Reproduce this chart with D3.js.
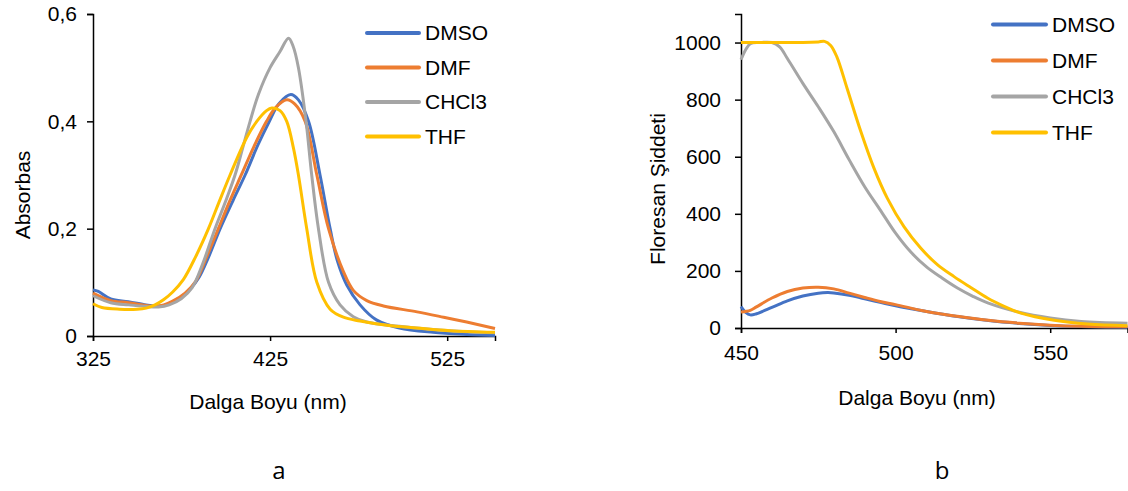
<!DOCTYPE html>
<html>
<head>
<meta charset="utf-8">
<script src="https://d3js.org/d3.v7.min.js"></script>
<style>
  body { margin: 0; background: #fff; }
  svg { display: block; font-family: "Liberation Sans", Arial, sans-serif; }
  .axis path, .axis line { stroke: #000; stroke-width: 1.5; }
  .axis text { font-size: 21px; fill: #000; font-family: "Liberation Sans", Arial, sans-serif; }
  .title { font-size: 21px; fill: #000; }
  .legend text { font-size: 21px; fill: #000; }
  .panel { font-size: 24px; font-family: "Open Sans", sans-serif; fill: #000; }
</style>
</head>
<body>
<svg id="chart" width="1128" height="491"></svg>
<script>
// series names and colours
const solvents = ["DMSO", "DMF", "CHCl3", "THF"];
const colors = ["#4472C4", "#ED7D31", "#A5A5A5", "#FFC000"];

// panel a: absorbance (wavelength nm, absorbance)
const absDMSO = [[325,0.086],[328,0.083],[335,0.069],[345,0.064],[355,0.058],[360,0.056],[365,0.057],[370,0.063],[375,0.073],[380,0.088],[385,0.11],[390,0.145],[396.8,0.2],[404,0.252],[410.9,0.3],[418,0.355],[424.6,0.4],[430,0.433],[436.7,0.45],[441,0.44],[446.7,0.4],[453.2,0.3],[458.9,0.2],[463,0.14],[468.3,0.095],[475.8,0.058],[485,0.03],[498,0.015],[517,0.007],[536,0.003],[552,0.001]];
const absDMF = [[325,0.08],[335,0.066],[345,0.062],[355,0.057],[360,0.055],[365,0.058],[370,0.065],[377,0.08],[383,0.102],[389,0.146],[395.8,0.2],[402,0.25],[409,0.302],[416,0.354],[423,0.4],[428,0.425],[434.4,0.44],[439,0.432],[444.8,0.4],[451.4,0.3],[458,0.2],[466.4,0.12],[472,0.085],[479.6,0.066],[489,0.056],[508,0.045],[523,0.035],[536,0.026],[552,0.014]];
const absCHCl3 = [[325,0.075],[335,0.062],[345,0.058],[355,0.055],[362,0.054],[368,0.058],[375,0.07],[381,0.09],[387,0.135],[393.9,0.2],[400,0.252],[405.2,0.3],[409.5,0.35],[413.7,0.4],[418.4,0.45],[425,0.5],[430.6,0.53],[435.4,0.555],[438,0.54],[441,0.5],[445.3,0.4],[448.5,0.3],[452.3,0.2],[458,0.1],[464.5,0.058],[472,0.036],[479.6,0.026],[498,0.018],[517,0.012],[536,0.008],[552,0.006]];
const absTHF = [[325,0.06],[330,0.053],[340,0.05],[350,0.05],[355,0.052],[360,0.058],[365,0.068],[370,0.082],[376,0.105],[383,0.148],[390.2,0.2],[396,0.248],[402.4,0.3],[411.8,0.37],[417.5,0.4],[423,0.42],[426,0.425],[430.6,0.42],[434.4,0.4],[438.2,0.35],[441,0.3],[445.7,0.2],[451.4,0.1],[458.9,0.05],[466.4,0.035],[475.8,0.028],[490.9,0.02],[507.9,0.015],[526.7,0.01],[552,0.007]];
const absXTicks = [325, 425, 525];
const absYTicks = [0, 0.2, 0.4, 0.6];

// panel b: fluorescence (wavelength nm, intensity)
const flDMSO = [[450,75],[451.5,55],[453,46],[455,50],[460,72],[465,95],[470,112],[475,122],[478,124],[480,123],[485,115],[490,102],[495,90],[500,78],[510,58],[520,40],[530,26],[540,16],[550,9],[560,5],[575,3]];
const flDMF = [[450,56],[453,62],[455,74],[460,105],[465,128],[470,140],[475,143],[480,137],[485,122],[490,107],[495,93],[500,82],[510,58],[520,41],[530,27],[540,17],[550,10],[560,6],[575,4]];
const flCHCl3 = [[450,940],[451.5,975],[453,996],[456,1000],[460,1000],[462.5,985],[465,944],[470,857],[475,775],[480,688],[485,589],[490,495],[495,414],[500,332],[505,265],[510,214],[515,175],[520,140],[525,111],[530,87],[540,55],[550,35],[560,23],[575,17]];
const flTHF = [[450,1000],[460,1000],[470,1000],[475,1002],[477,1004],[479,990],[481,950],[484.3,840],[488.7,690],[493,560],[497.3,455],[502.7,355],[508.1,280],[513.5,222],[518.9,180],[524.3,142],[529.7,105],[535.1,76],[540.5,52],[551.3,27],[562.1,14],[575,8]];
const flXTicks = [450, 500, 550];
const flYTicks = [0, 200, 400, 600, 800, 1000];

const svg = d3.select("#chart");
const comma = d => d === 0 ? "0" : d3.format(".1f")(d).replace(".", ",");

function drawPanel(opt) {
  const x = d3.scaleLinear().domain(opt.xDomain).range([opt.left, opt.right]);
  const y = d3.scaleLinear().domain(opt.yDomain).range([opt.bottom, opt.top]);

  svg.append("g").attr("class", "axis")
    .attr("transform", "translate(0," + opt.bottom + ")")
    .call(d3.axisBottom(x).tickValues(opt.xTicks).tickSizeOuter(0).tickSize(5).tickPadding(opt.xPad))
    .call(g => g.selectAll("text").attr("font-size", null));

  svg.append("g").attr("class", "axis")
    .attr("transform", "translate(" + opt.left + ",0)")
    .call(d3.axisLeft(y).tickValues(opt.yTicks).tickFormat(opt.yFormat).tickSizeOuter(0).tickSize(6).tickPadding(opt.yPad))
    .call(g => g.selectAll("text").attr("font-size", null));

  const line = d3.line()
    .x(d => x(d[0]))
    .y(d => y(d[1]))
    .curve(d3.curveCatmullRom.alpha(0.5));

  opt.series.forEach((s, i) => {
    svg.append("path")
      .datum(s)
      .attr("fill", "none")
      .attr("stroke", colors[i])
      .attr("stroke-width", 3)
      .attr("stroke-linejoin", "round")
      .attr("d", line);
  });

  svg.append("text").attr("class", "title")
    .attr("x", opt.xTitle[0]).attr("y", opt.xTitle[1])
    .attr("text-anchor", "middle")
    .text("Dalga Boyu (nm)");

  svg.append("text").attr("class", "title")
    .attr("transform", "translate(" + opt.yTitle[0] + "," + opt.yTitle[1] + ") rotate(-90)")
    .attr("text-anchor", "middle")
    .attr("dy", "0.35em")
    .text(opt.yLabel);

  const legend = svg.append("g").attr("class", "legend")
    .selectAll("g")
    .data(solvents)
    .enter()
    .append("g")
    .attr("transform", (d, i) => "translate(" + opt.legendX + "," + (opt.legendY + i * opt.legendStep) + ")");
  legend.append("line")
    .attr("x1", 0).attr("x2", opt.legendLine)
    .attr("stroke", (d, i) => colors[i])
    .attr("stroke-width", 4)
    .attr("stroke-linecap", "round");
  legend.append("text")
    .attr("x", opt.legendLine + 6)
    .attr("dy", "0.35em")
    .text(d => d);

  svg.append("text").attr("class", "panel")
    .attr("x", opt.panel[0]).attr("y", opt.panel[1])
    .attr("text-anchor", "middle")
    .text(opt.panelLabel);
}

drawPanel({
  xDomain: [325, 552], yDomain: [0, 0.6],
  left: 93, right: 495, top: 14, bottom: 336,
  xTicks: absXTicks, yTicks: absYTicks, yFormat: comma,
  xPad: 10, yPad: 10,
  series: [absDMSO, absDMF, absCHCl3, absTHF],
  xTitle: [268, 409], yTitle: [23, 195], yLabel: "Absorbas",
  legendX: 367, legendY: 33, legendStep: 34.5, legendLine: 52,
  panel: [279, 479], panelLabel: "a"
});

drawPanel({
  xDomain: [450, 575], yDomain: [0, 1100],
  left: 741, right: 1127.5, top: 14, bottom: 328,
  xTicks: flXTicks, yTicks: flYTicks, yFormat: d3.format("d"),
  xPad: 12, yPad: 14,
  series: [flDMSO, flDMF, flCHCl3, flTHF],
  xTitle: [917, 405], yTitle: [658, 189], yLabel: "Floresan Şiddeti",
  legendX: 993, legendY: 24.5, legendStep: 36, legendLine: 53,
  panel: [942, 479], panelLabel: "b"
});
</script>
</body>
</html>
